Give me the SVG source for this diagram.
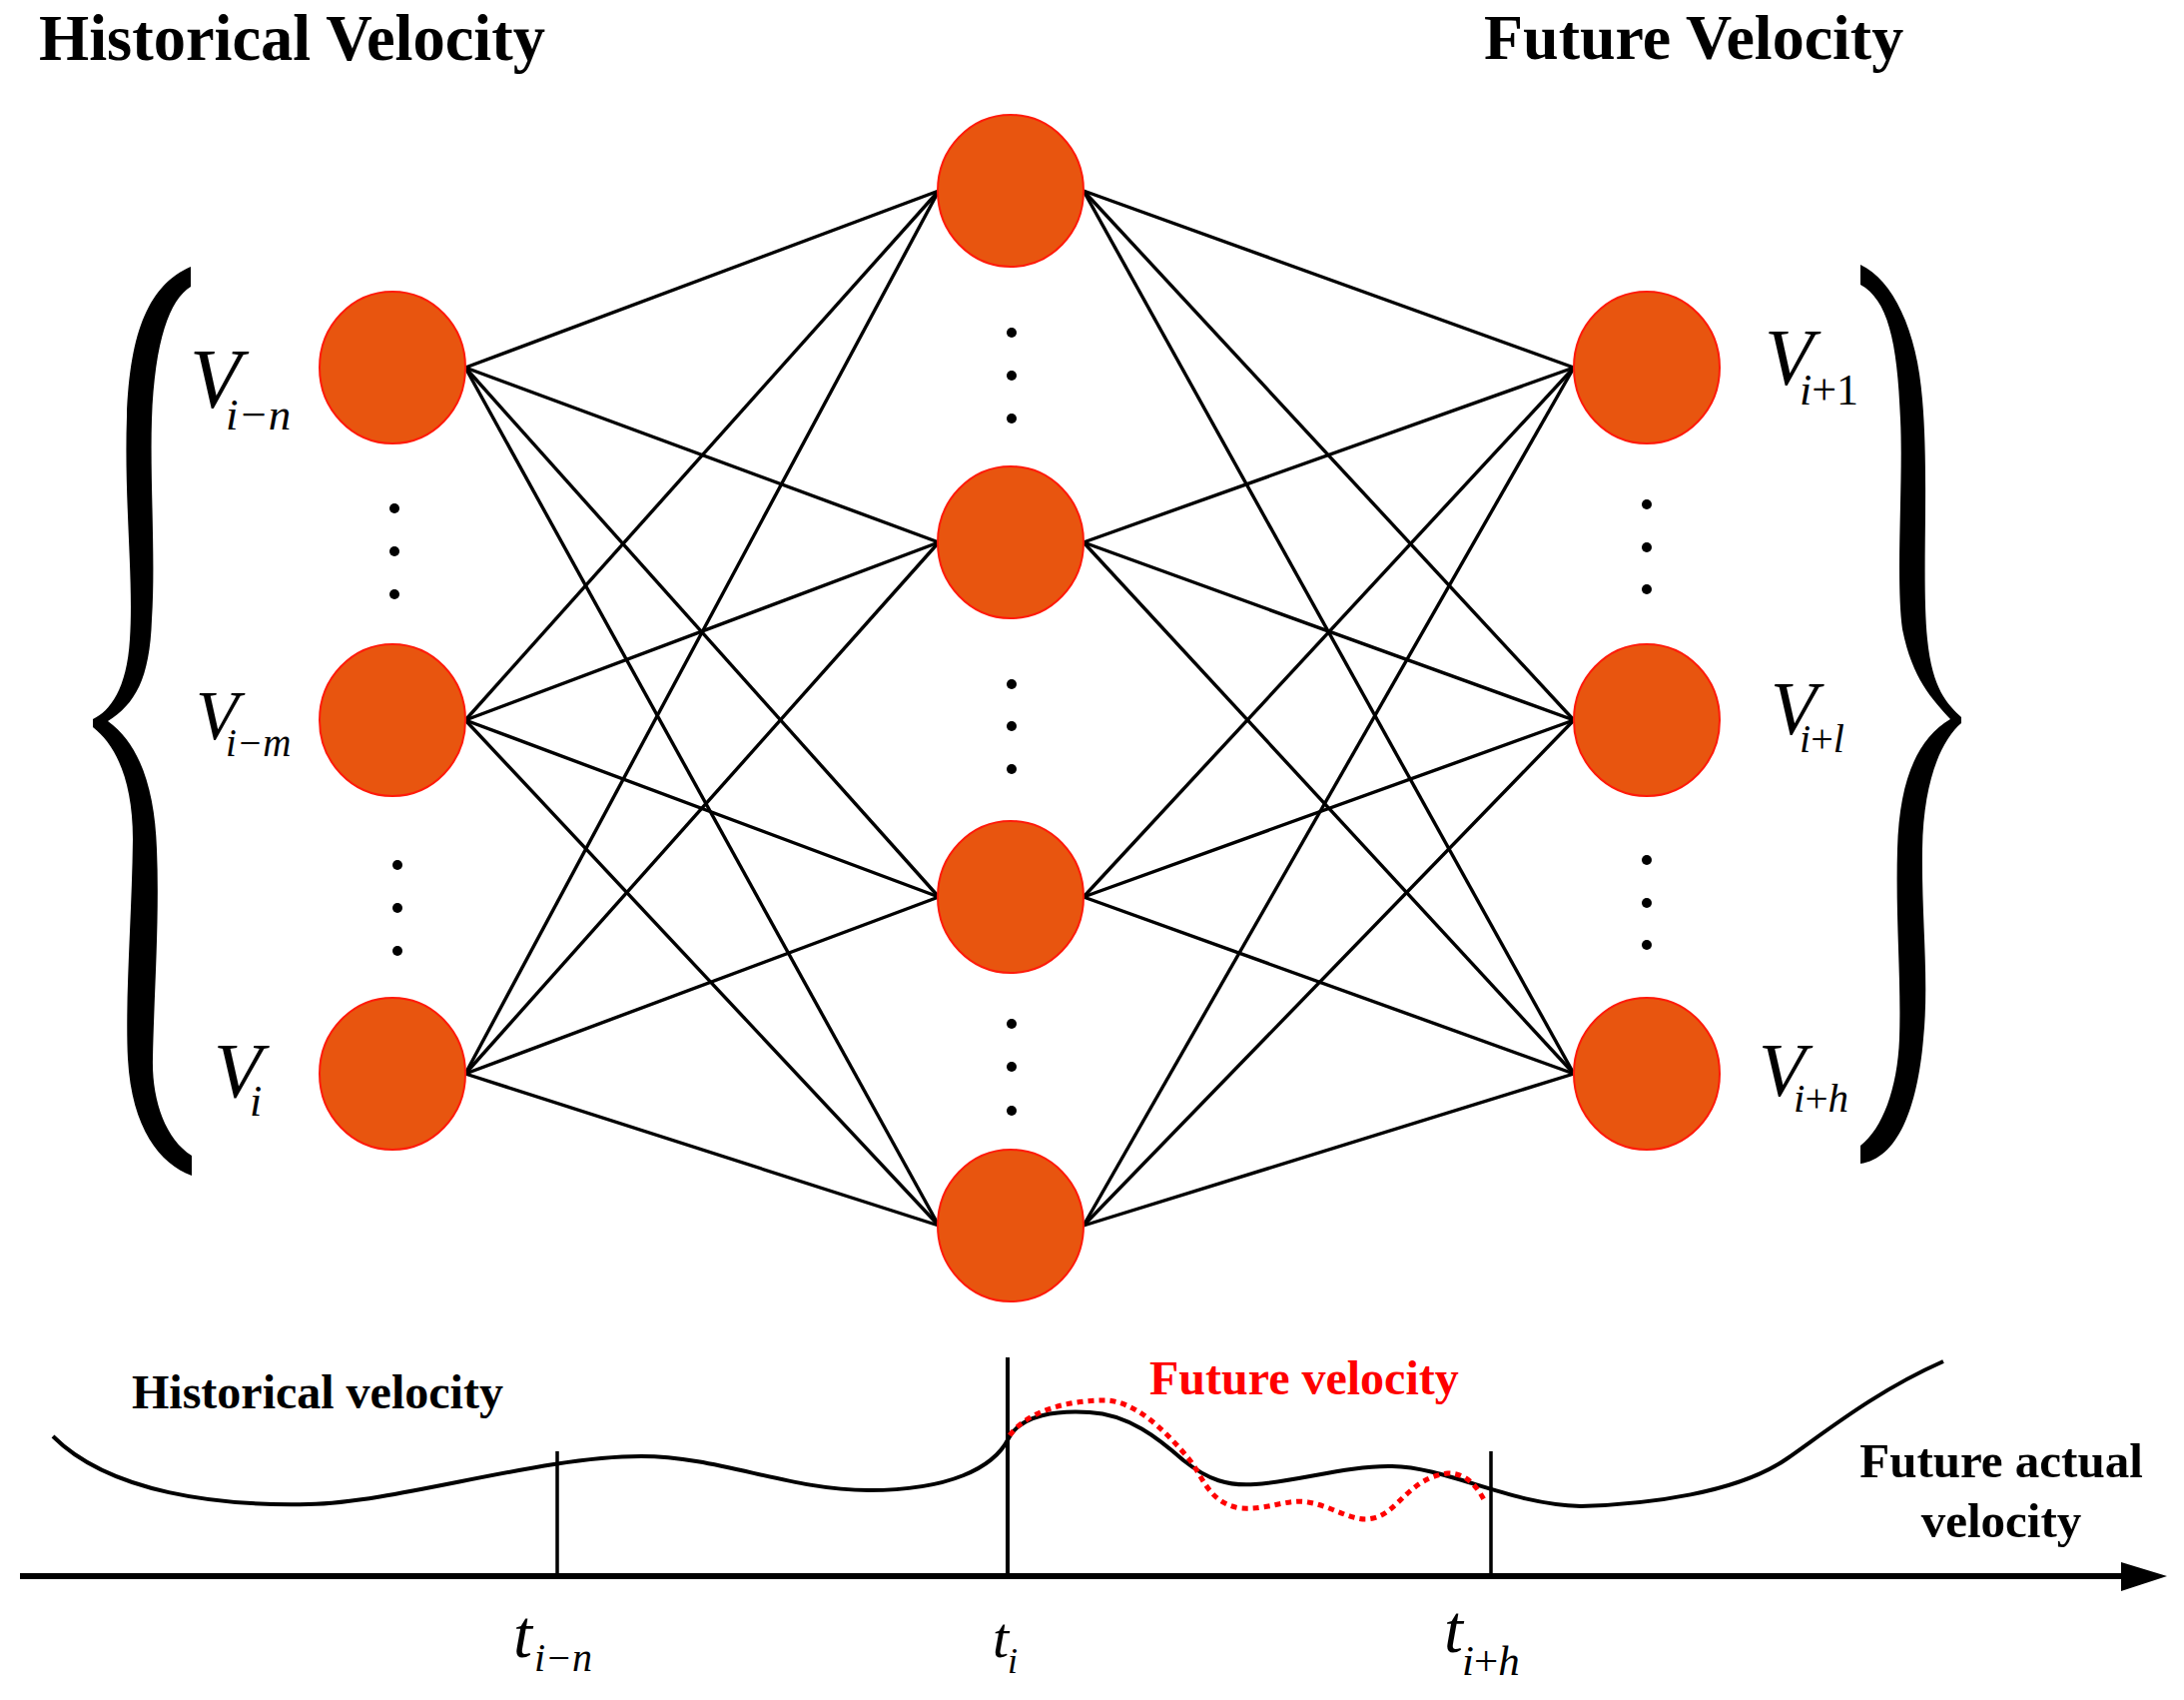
<svg xmlns="http://www.w3.org/2000/svg" width="2187" height="1702" viewBox="0 0 2187 1702">
<style>
.node{fill:#E8550F;stroke:#FF1A0A;stroke-width:2}
.edge{stroke:#000;stroke-width:3.4;fill:none}
.dot{fill:#000}
.title{font-family:"Liberation Serif",serif;font-weight:bold;fill:#000}
.math{font-family:"Liberation Serif",serif;font-style:italic;fill:#000}
.up{font-style:normal}
.brace{fill:#000}
</style>
<rect width="2187" height="1702" fill="#fff"/>

<text class="title" x="39" y="60" font-size="64.5">Historical Velocity</text>
<text class="title" x="1486" y="59" font-size="64">Future Velocity</text>

<!-- braces -->
<path class="brace" d="M191,267 C150,285 130,330 127,417 C124,500 134,580 130,640 C127,690 110,712 93,720 L93,728 C115,745 133,780 133,840 C132,920 125,1000 128,1060 C132,1130 160,1165 192,1177 L192,1157 C165,1140 152,1100 153,1060 C154,1000 160,920 157,850 C155,790 140,745 108,722 C135,705 150,680 152,620 C156,560 150,480 152,420 C155,340 170,300 191,287 Z"/>
<path class="brace" d="M1863,265 C1895,280 1920,330 1925,400 C1932,480 1924,580 1930,640 C1935,690 1950,705 1964,718 L1964,724 C1945,740 1926,780 1925,850 C1924,920 1932,980 1926,1040 C1920,1110 1900,1160 1863,1165 L1863,1147 C1885,1130 1900,1090 1902,1040 C1904,980 1898,920 1900,850 C1902,780 1920,740 1953,720 C1935,700 1915,680 1905,630 C1898,580 1906,480 1903,420 C1900,340 1890,300 1863,285 Z"/>

<g id="connectors">
<line class="edge" x1="466" y1="368" x2="940" y2="191"/>
<line class="edge" x1="466" y1="368" x2="940" y2="543"/>
<line class="edge" x1="466" y1="368" x2="940" y2="898"/>
<line class="edge" x1="466" y1="368" x2="940" y2="1227"/>
<line class="edge" x1="466" y1="721" x2="940" y2="191"/>
<line class="edge" x1="466" y1="721" x2="940" y2="543"/>
<line class="edge" x1="466" y1="721" x2="940" y2="898"/>
<line class="edge" x1="466" y1="721" x2="940" y2="1227"/>
<line class="edge" x1="466" y1="1075" x2="940" y2="191"/>
<line class="edge" x1="466" y1="1075" x2="940" y2="543"/>
<line class="edge" x1="466" y1="1075" x2="940" y2="898"/>
<line class="edge" x1="466" y1="1075" x2="940" y2="1227"/>
<line class="edge" x1="1085" y1="191" x2="1576" y2="368"/>
<line class="edge" x1="1085" y1="191" x2="1576" y2="721"/>
<line class="edge" x1="1085" y1="191" x2="1576" y2="1075"/>
<line class="edge" x1="1085" y1="543" x2="1576" y2="368"/>
<line class="edge" x1="1085" y1="543" x2="1576" y2="721"/>
<line class="edge" x1="1085" y1="543" x2="1576" y2="1075"/>
<line class="edge" x1="1085" y1="898" x2="1576" y2="368"/>
<line class="edge" x1="1085" y1="898" x2="1576" y2="721"/>
<line class="edge" x1="1085" y1="898" x2="1576" y2="1075"/>
<line class="edge" x1="1085" y1="1227" x2="1576" y2="368"/>
<line class="edge" x1="1085" y1="1227" x2="1576" y2="721"/>
<line class="edge" x1="1085" y1="1227" x2="1576" y2="1075"/>
</g>

<g id="in1"><ellipse class="node" cx="393" cy="368" rx="73" ry="76"/>
<text class="math"><tspan x="190" y="408" font-size="84">V</tspan><tspan x="226" y="430" font-size="45">i−n</tspan></text></g>
<g id="in2"><ellipse class="node" cx="393" cy="721" rx="73" ry="76"/>
<text class="math"><tspan x="196" y="740" font-size="70">V</tspan><tspan x="226" y="757" font-size="39">i−m</tspan></text></g>
<g id="in3"><ellipse class="node" cx="393" cy="1075" rx="73" ry="76"/>
<text class="math"><tspan x="214" y="1098" font-size="79">V</tspan><tspan x="250" y="1117" font-size="44">i</tspan></text></g>

<g id="h1"><ellipse class="node" cx="1012" cy="191" rx="73" ry="76"/></g>
<g id="h2"><ellipse class="node" cx="1012" cy="543" rx="73" ry="76"/></g>
<g id="h3"><ellipse class="node" cx="1012" cy="898" rx="73" ry="76"/></g>
<g id="h4"><ellipse class="node" cx="1012" cy="1227" rx="73" ry="76"/></g>

<g id="out1"><ellipse class="node" cx="1649" cy="368" rx="73" ry="76"/>
<text class="math"><tspan x="1767" y="385" font-size="80">V</tspan><tspan x="1802" y="405" font-size="44">i</tspan><tspan class="up" y="405" font-size="44">+1</tspan></text></g>
<g id="out2"><ellipse class="node" cx="1649" cy="721" rx="73" ry="76"/>
<text class="math"><tspan x="1773" y="735" font-size="76">V</tspan><tspan x="1802" y="753" font-size="40">i</tspan><tspan class="up" font-size="40">+</tspan><tspan font-size="40">l</tspan></text></g>
<g id="out3"><ellipse class="node" cx="1649" cy="1075" rx="73" ry="76"/>
<text class="math"><tspan x="1761" y="1097" font-size="77">V</tspan><tspan x="1796" y="1113" font-size="41">i</tspan><tspan class="up" font-size="41">+</tspan><tspan font-size="41">h</tspan></text></g>

<g id="ellipsis">
<circle class="dot" cx="395" cy="509" r="5"/><circle class="dot" cx="395" cy="552" r="5"/><circle class="dot" cx="395" cy="595" r="5"/>
<circle class="dot" cx="398" cy="866" r="5"/><circle class="dot" cx="398" cy="909" r="5"/><circle class="dot" cx="398" cy="952" r="5"/>
<circle class="dot" cx="1013" cy="333" r="5"/><circle class="dot" cx="1013" cy="376" r="5"/><circle class="dot" cx="1013" cy="419" r="5"/>
<circle class="dot" cx="1013" cy="685" r="5"/><circle class="dot" cx="1013" cy="727" r="5"/><circle class="dot" cx="1013" cy="770" r="5"/>
<circle class="dot" cx="1013" cy="1025" r="5"/><circle class="dot" cx="1013" cy="1068" r="5"/><circle class="dot" cx="1013" cy="1112" r="5"/>
<circle class="dot" cx="1649" cy="505" r="5"/><circle class="dot" cx="1649" cy="548" r="5"/><circle class="dot" cx="1649" cy="590" r="5"/>
<circle class="dot" cx="1649" cy="861" r="5"/><circle class="dot" cx="1649" cy="904" r="5"/><circle class="dot" cx="1649" cy="946" r="5"/>
</g>

<!-- timeline -->
<g id="timeline">
<line x1="20" y1="1578" x2="2128" y2="1578" stroke="#000" stroke-width="6"/>
<polygon points="2124,1564 2170,1578 2124,1593" fill="#000"/>
<line x1="558" y1="1453" x2="558" y2="1578" stroke="#000" stroke-width="3.5"/>
<line x1="1009" y1="1359" x2="1009" y2="1578" stroke="#000" stroke-width="4"/>
<line x1="1493" y1="1453" x2="1493" y2="1578" stroke="#000" stroke-width="3.5"/>
<path d="M53,1438 C110,1495 220,1508 309,1506 C400,1504 540,1458 642,1458 C720,1458 790,1492 870,1492 C950,1492 995,1470 1010,1440 C1022,1416 1060,1412 1091,1414 C1130,1416 1160,1440 1185,1462 C1210,1482 1230,1488 1257,1486 C1300,1483 1350,1467 1394,1468 C1450,1469 1510,1506 1583,1508 C1650,1506 1740,1495 1790,1460 C1830,1432 1880,1392 1946,1363" fill="none" stroke="#000" stroke-width="4"/>
<path d="M1011,1437 C1030,1412 1070,1402 1106,1402 C1135,1402 1165,1430 1190,1460 C1205,1478 1210,1505 1242,1510 C1270,1512 1290,1500 1310,1504 C1335,1508 1355,1525 1375,1520 C1400,1515 1410,1480 1450,1475 C1470,1475 1480,1490 1488,1505" fill="none" stroke="#FF0000" stroke-width="5" stroke-dasharray="6 5"/>
<text class="title" x="132" y="1410" font-size="48">Historical velocity</text>
<text class="title" x="1151" y="1396" font-size="48" style="fill:#FF0000">Future velocity</text>
<text class="title" x="2004" y="1479" font-size="49" text-anchor="middle">Future actual</text>
<text class="title" x="2004" y="1539" font-size="49" text-anchor="middle">velocity</text>
<text class="math"><tspan x="514" y="1659" font-size="68">t</tspan><tspan x="535" y="1673" font-size="40">i−n</tspan></text>
<text class="math"><tspan x="994" y="1659" font-size="58">t</tspan><tspan x="1009" y="1675" font-size="36">i</tspan></text>
<text class="math"><tspan x="1446" y="1654" font-size="68">t</tspan><tspan x="1464" y="1677" font-size="43">i</tspan><tspan class="up" font-size="43">+</tspan><tspan font-size="43">h</tspan></text>
</g>
</svg>
